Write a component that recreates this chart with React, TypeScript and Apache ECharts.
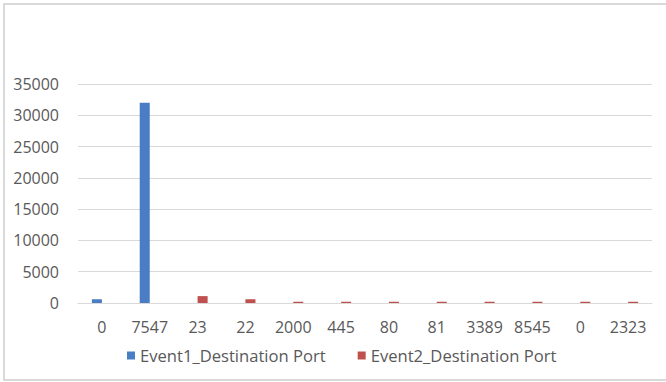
import React, { useEffect, useRef } from "react";
import * as echarts from "echarts";

const categories = ["0", "7547", "23", "22", "2000", "445", "80", "81", "3389", "8545", "0", "2323"];
const event1Values = [600, 32000, 0, 0, 0, 0, 0, 0, 0, 0, 0, 0];
const event2Values = [0, 0, 1100, 600, 200, 200, 200, 200, 200, 200, 200, 200];
const seriesNames = ["Event1_Destination Port", "Event2_Destination Port"];

const FONT = "'Open Sans', 'Noto Sans', sans-serif";

export default function App() {
  const ref = useRef<HTMLDivElement>(null);
  useEffect(() => {
    if (!ref.current) return;
    const chart = echarts.init(ref.current, null, { renderer: "svg" });
    chart.setOption({
      animation: false,
      backgroundColor: "#ffffff",
      textStyle: { fontFamily: FONT },
      graphic: [
        {
          type: "rect",
          shape: { x: 4, y: 4, width: 690, height: 376 },
          style: { fill: "none", stroke: "#d9d9d9", lineWidth: 2 },
          silent: true,
        },
      ],
      grid: { left: 78, right: 14, top: 84, bottom: 79 },
      legend: {
        left: 122,
        top: 342,
        itemWidth: 8,
        itemHeight: 8,
        itemGap: 32,
        icon: "rect",
        textStyle: { fontFamily: FONT, fontSize: 16.6, color: "#595959", padding: [0, 0, 0, 0] },
        data: seriesNames,
      },
      xAxis: {
        type: "category",
        data: categories,
        axisLine: { show: true, lineStyle: { color: "#d9d9d9", width: 1 } },
        axisTick: { show: false },
        axisLabel: { fontFamily: FONT, fontSize: 16, color: "#595959", margin: 16, interval: 0 },
      },
      yAxis: {
        type: "value",
        min: 0,
        max: 35000,
        interval: 5000,
        axisLine: { show: false },
        axisTick: { show: false },
        splitLine: { lineStyle: { color: "#d9d9d9", width: 1 } },
        axisLabel: {
          fontFamily: FONT,
          fontSize: 16,
          color: "#595959",
          margin: 19,
          formatter: (v: number) => String(v),
        },
      },
      series: [
        {
          name: seriesNames[0],
          type: "bar",
          data: event1Values,
          barGap: "0%",
          barCategoryGap: "58%",
          itemStyle: { color: "#4A7EC4" },
        },
        {
          name: seriesNames[1],
          type: "bar",
          data: event2Values,
          barGap: "0%",
          barCategoryGap: "58%",
          itemStyle: { color: "#C0504D" },
        },
      ],
    });
    return () => chart.dispose();
  }, []);
  return (
    <div
      ref={ref}
      style={{ position: "fixed", left: 0, top: 0, width: 666, height: 382 }}
    />
  );
}
